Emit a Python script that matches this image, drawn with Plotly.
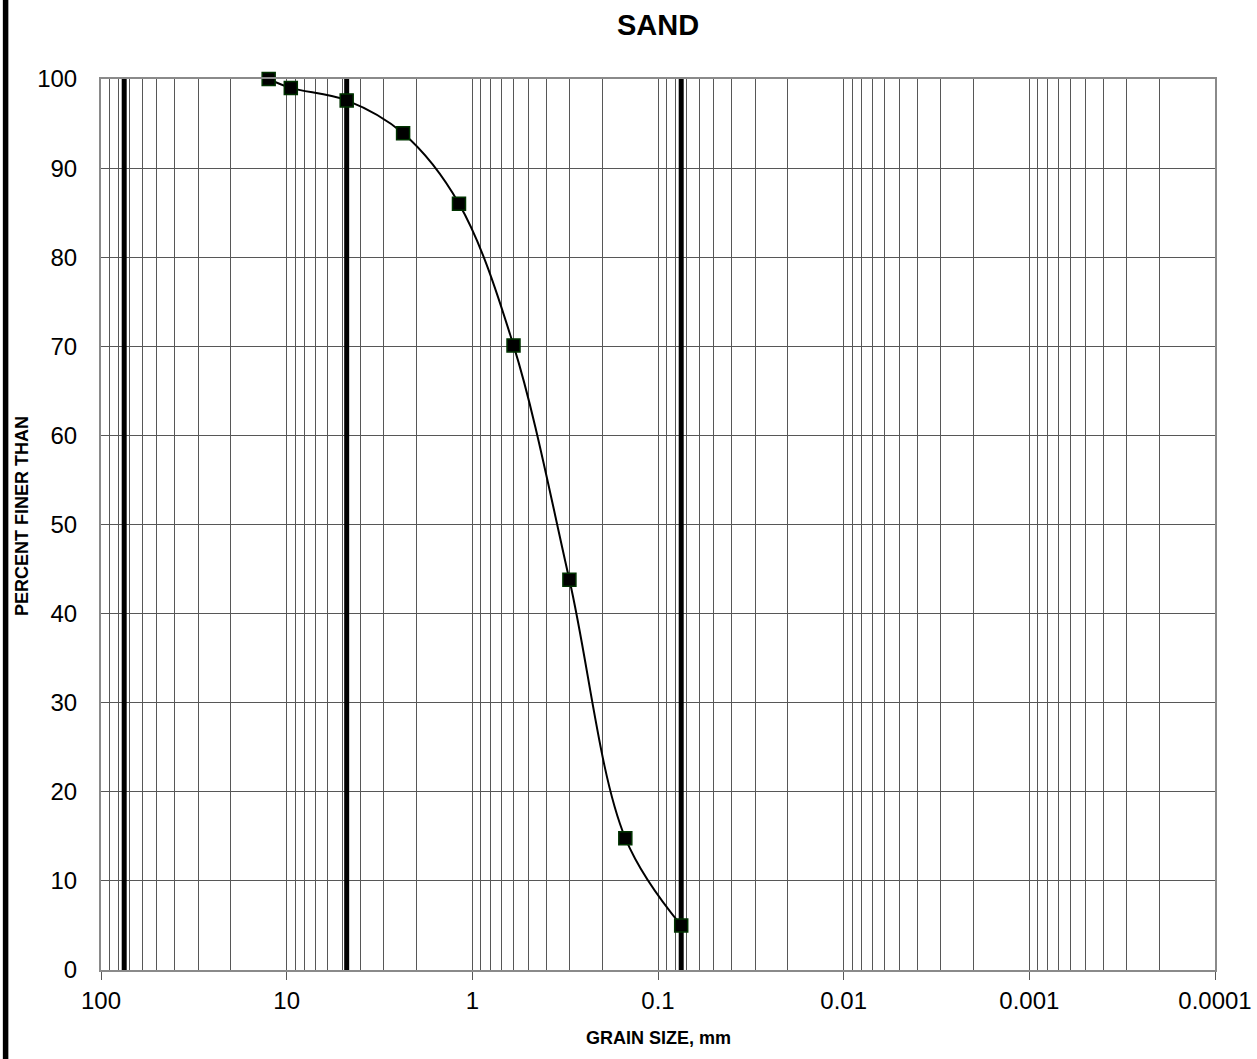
import plotly.graph_objects as go

# Data
grain_size_mm = [12.5, 9.5, 4.75, 2.36, 1.18, 0.6, 0.3, 0.15, 0.075]
percent_finer = [100.0, 99.0, 97.6, 93.9, 86.0, 70.1, 43.8, 14.8, 5.0]
boundary_sizes = [75, 4.75, 0.075]
boundary_y = [0, 100]
x_tick_vals = [100, 10, 1, 0.1, 0.01, 0.001, 0.0001]
x_tick_text = ["100", "10", "1", "0.1", "0.01", "0.001", "0.0001"]
y_tick_vals = [0, 10, 20, 30, 40, 50, 60, 70, 80, 90, 100]

FONT = "Arial, Liberation Sans, sans-serif"
GRID = "#575757"

W, H = 1257, 1059
L, R, T, B = 101, 42, 79, 89
PW, PH = W - L - R, H - T - B

fig = go.Figure()

for b in boundary_sizes:
    fig.add_trace(go.Scatter(
        x=[b, b], y=boundary_y, mode="lines",
        line=dict(color="black", width=5), showlegend=False, hoverinfo="skip",
    ))

fig.add_trace(go.Scatter(
    x=grain_size_mm, y=percent_finer, mode="lines+markers",
    line=dict(color="black", width=2, shape="spline", smoothing=1),
    marker=dict(symbol="square", size=13, color="black",
                line=dict(color="#003300", width=1.5)),
    cliponaxis=False,
    showlegend=False,
))

fig.update_layout(
    width=W, height=H,
    margin=dict(l=L, r=R, t=T, b=B, autoexpand=False),
    paper_bgcolor="white", plot_bgcolor="white",
    font=dict(family=FONT, color="black"),
    title=dict(text="<b>SAND</b>", x=(L + W - R) / 2 / W, xanchor="center",
               y=1 - 25 / H, yanchor="middle",
               font=dict(size=29, family=FONT, color="black")),
    showlegend=False,
)

fig.update_xaxes(
    type="log", range=[2, -4], automargin=False,
    tickvals=x_tick_vals, ticktext=x_tick_text,
    tickfont=dict(size=24, family=FONT, color="black"),
    ticks="outside", ticklen=8, tickcolor=GRID, tickwidth=1,
    showgrid=True, gridcolor=GRID, gridwidth=1,
    minor=dict(dtick="D1", showgrid=True, gridcolor=GRID, gridwidth=1, ticks=""),
    showline=True, linecolor="#8a8a8a", linewidth=2, mirror=True,
    zeroline=False,
)

fig.update_yaxes(
    range=[0, 100], tickvals=y_tick_vals, automargin=False,
    tickfont=dict(size=24, family=FONT, color="black"),
    ticks="", ticklabelstandoff=17,
    showgrid=True, gridcolor=GRID, gridwidth=1,
    showline=True, linecolor="#8a8a8a", linewidth=2, mirror=True,
    zeroline=False,
)

# axis titles
fig.add_annotation(text="<b>GRAIN SIZE, mm</b>", xref="paper", yref="paper",
                   x=0.5, y=-(1038 - (T + PH)) / PH, xanchor="center", yanchor="middle",
                   showarrow=False, font=dict(size=18, family=FONT, color="black"))
fig.add_annotation(text="<b>PERCENT FINER THAN</b>", xref="paper", yref="paper",
                   x=(22 - L) / PW, y=1 - (516 - T) / PH, xanchor="center", yanchor="middle",
                   textangle=-90, showarrow=False,
                   font=dict(size=18, family=FONT, color="black"))

# thick black bar at the left edge of the image
fig.add_shape(type="line", xref="paper", yref="paper",
              x0=(5.6 - L) / PW, x1=(5.6 - L) / PW,
              y0=-B / PH, y1=1 + T / PH,
              line=dict(color="black", width=5.5))

fig.write_html("out.html")
